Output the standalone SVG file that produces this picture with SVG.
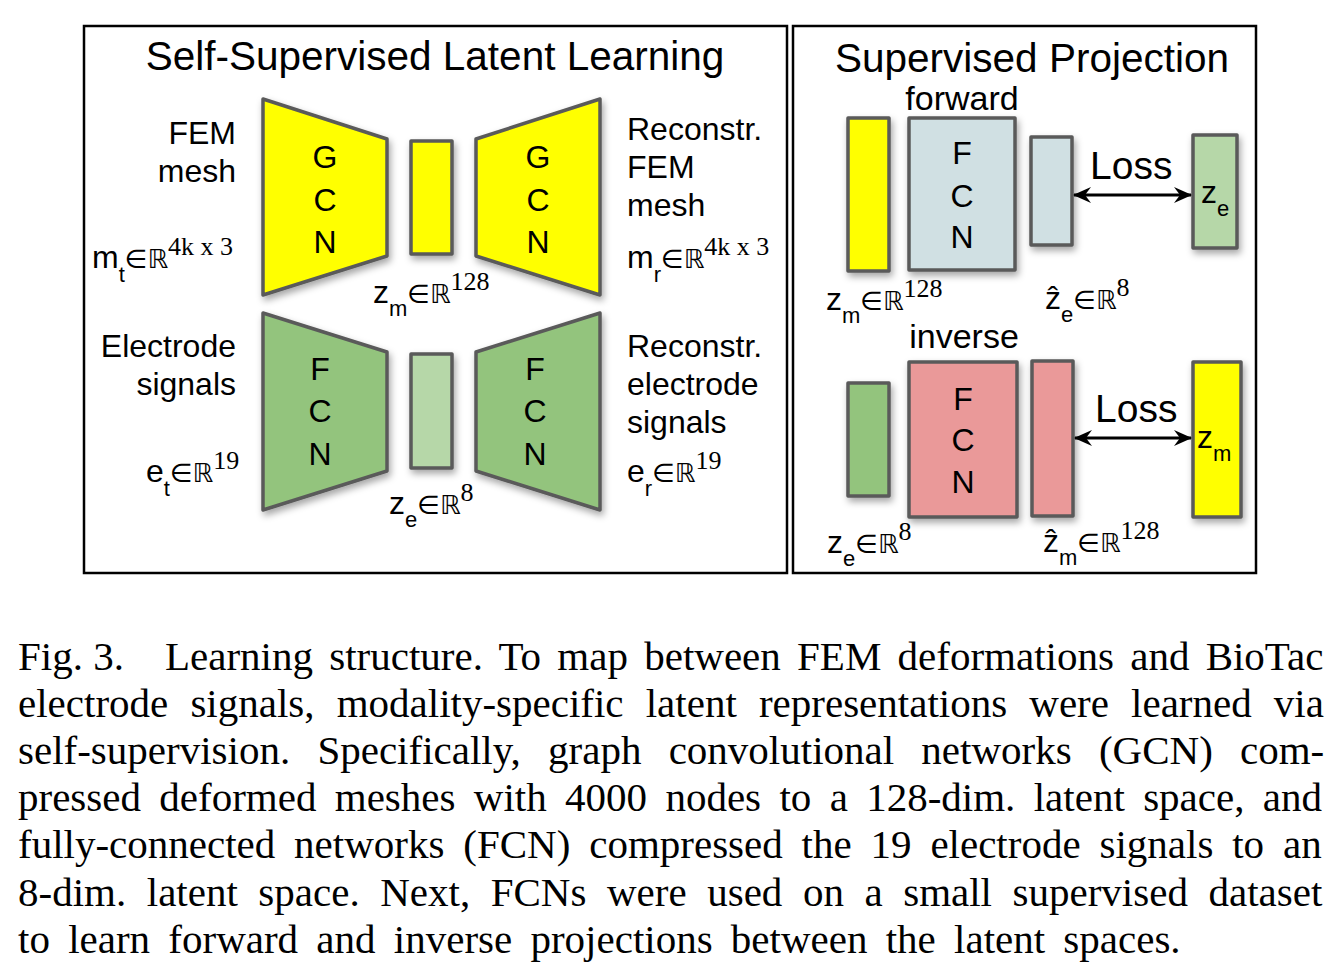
<svg xmlns="http://www.w3.org/2000/svg" width="1344" height="966" viewBox="0 0 1344 966">
<style>
text{font-family:"Liberation Sans",Arial,"DejaVu Sans",sans-serif;fill:#000}
.title{font-size:40.5px}
.lbl{font-size:32px}
.let{font-size:32px;text-anchor:middle}
.sub{font-size:22px}
.sym{font-family:"DejaVu Sans",sans-serif;font-size:26px}
.sup{font-family:"Liberation Serif","DejaVu Serif",serif;font-size:26px}
.loss{font-size:39px}
.cap{font-family:"Liberation Serif","Times New Roman",serif;font-size:41px}
.shape{stroke:#5a5a5a;stroke-width:3.5;stroke-linejoin:round;filter:url(#sh)}
.panel{fill:none;stroke:#000;stroke-width:2.5}
.yel{fill:#ffff00}
.grn{fill:#93c47d}
.lgrn{fill:#b6d7a8}
.blu{fill:#d0e0e3}
.pnk{fill:#ea9999}
.conn{stroke:#000;stroke-width:3;fill:none}
</style>
<defs>
<filter id="sh" x="-20%" y="-20%" width="150%" height="150%">
<feDropShadow dx="2" dy="4" stdDeviation="3.5" flood-color="#000" flood-opacity="0.35"/>
</filter>
<marker id="ah" viewBox="0 0 18 16" refX="17" refY="8" markerWidth="18" markerHeight="16" markerUnits="userSpaceOnUse" orient="auto-start-reverse">
<path d="M0,0 L18,8 L0,16 L6,8 z" fill="#000"/>
</marker>
</defs>
<rect width="1344" height="966" fill="#fff"/>

<g id="panel-left">
<rect class="panel" x="84" y="26" width="703" height="547"/>
<text class="title" x="435" y="70" text-anchor="middle">Self-Supervised Latent Learning</text>
</g>
<g id="panel-right">
<rect class="panel" x="793" y="26" width="463" height="547"/>
<text class="title" x="1032" y="72" text-anchor="middle">Supervised Projection</text>
</g>

<g id="gcn-encoder">
<polygon class="shape yel" points="263,99 387,139 387,256 263,295"/>
<text class="let" x="325" y="168">G</text>
<text class="let" x="325" y="211">C</text>
<text class="let" x="325" y="253">N</text>
</g>
<g id="zm-latent">
<rect class="shape yel" x="411" y="141" width="41" height="113"/>
<text class="lbl" x="373" y="303">z<tspan class="sub" dy="13">m</tspan><tspan class="sym" dy="-13">∈ℝ</tspan><tspan class="sup" dy="-13">128</tspan></text>
</g>
<g id="gcn-decoder">
<polygon class="shape yel" points="476,139 600,99 600,295 476,256"/>
<text class="let" x="538" y="168">G</text>
<text class="let" x="538" y="211">C</text>
<text class="let" x="538" y="253">N</text>
</g>
<g id="fem-input">
<text class="lbl" x="236" y="144" text-anchor="end">FEM</text>
<text class="lbl" x="236" y="182" text-anchor="end">mesh</text>
<text class="lbl" x="92" y="268">m<tspan class="sub" dy="14">t</tspan><tspan class="sym" dy="-14">∈ℝ</tspan><tspan class="sup" dy="-13">4k x 3</tspan></text>
</g>
<g id="fem-output">
<text class="lbl" x="627" y="140">Reconstr.</text>
<text class="lbl" x="627" y="178">FEM</text>
<text class="lbl" x="627" y="216">mesh</text>
<text class="lbl" x="627" y="268">m<tspan class="sub" dy="14">r</tspan><tspan class="sym" dy="-14">∈ℝ</tspan><tspan class="sup" dy="-13">4k x 3</tspan></text>
</g>

<g id="fcn-encoder">
<polygon class="shape grn" points="263,313 387,352 387,471 263,510"/>
<text class="let" x="320" y="380">F</text>
<text class="let" x="320" y="422">C</text>
<text class="let" x="320" y="465">N</text>
</g>
<g id="ze-latent">
<rect class="shape lgrn" x="411" y="354" width="41" height="114"/>
<text class="lbl" x="389" y="514">z<tspan class="sub" dy="13">e</tspan><tspan class="sym" dy="-13">∈ℝ</tspan><tspan class="sup" dy="-13">8</tspan></text>
</g>
<g id="fcn-decoder">
<polygon class="shape grn" points="476,352 600,313 600,510 476,471"/>
<text class="let" x="535" y="380">F</text>
<text class="let" x="535" y="422">C</text>
<text class="let" x="535" y="465">N</text>
</g>
<g id="electrode-input">
<text class="lbl" x="236" y="357" text-anchor="end">Electrode</text>
<text class="lbl" x="236" y="395" text-anchor="end">signals</text>
<text class="lbl" x="146" y="482">e<tspan class="sub" dy="14">t</tspan><tspan class="sym" dy="-14">∈ℝ</tspan><tspan class="sup" dy="-13">19</tspan></text>
</g>
<g id="electrode-output">
<text class="lbl" x="627" y="357">Reconstr.</text>
<text class="lbl" x="627" y="395">electrode</text>
<text class="lbl" x="627" y="433">signals</text>
<text class="lbl" x="627" y="482">e<tspan class="sub" dy="14">r</tspan><tspan class="sym" dy="-14">∈ℝ</tspan><tspan class="sup" dy="-13">19</tspan></text>
</g>

<g id="forward">
<text class="lbl" x="962" y="110" text-anchor="middle" style="font-size:34px">forward</text>
</g>
<g id="fwd-zm">
<rect class="shape yel" x="848" y="118" width="41" height="153"/>
<text class="lbl" x="826" y="310">z<tspan class="sub" dy="13">m</tspan><tspan class="sym" dy="-13">∈ℝ</tspan><tspan class="sup" dy="-13">128</tspan></text>
</g>
<g id="fwd-fcn">
<rect class="shape blu" x="909" y="118" width="106" height="152"/>
<text class="let" x="962" y="164">F</text>
<text class="let" x="962" y="207">C</text>
<text class="let" x="962" y="248">N</text>
</g>
<g id="fwd-zehat">
<rect class="shape blu" x="1031" y="137" width="41" height="108"/>
<text class="lbl" x="1045" y="309">ẑ<tspan class="sub" dy="13">e</tspan><tspan class="sym" dy="-13">∈ℝ</tspan><tspan class="sup" dy="-13">8</tspan></text>
</g>
<g id="fwd-ze">
<rect class="shape lgrn" x="1193" y="135" width="44" height="113"/>
<text class="lbl" x="1201" y="203">z<tspan class="sub" dy="13">e</tspan></text>
</g>

<g id="inverse">
<text class="lbl" x="964" y="348" text-anchor="middle" style="font-size:34px">inverse</text>
</g>
<g id="inv-ze">
<rect class="shape grn" x="848" y="383" width="41" height="113"/>
<text class="lbl" x="827" y="553">z<tspan class="sub" dy="13">e</tspan><tspan class="sym" dy="-13">∈ℝ</tspan><tspan class="sup" dy="-13">8</tspan></text>
</g>
<g id="inv-fcn">
<rect class="shape pnk" x="909" y="362" width="108" height="155"/>
<text class="let" x="963" y="410">F</text>
<text class="let" x="963" y="451">C</text>
<text class="let" x="963" y="493">N</text>
</g>
<g id="inv-zmhat">
<rect class="shape pnk" x="1032" y="361" width="41" height="155"/>
<text class="lbl" x="1043" y="552">ẑ<tspan class="sub" dy="13">m</tspan><tspan class="sym" dy="-13">∈ℝ</tspan><tspan class="sup" dy="-13">128</tspan></text>
</g>
<g id="inv-zm">
<rect class="shape yel" x="1193" y="362" width="48" height="155"/>
<text class="lbl" x="1197" y="448">z<tspan class="sub" dy="13">m</tspan></text>
</g>

<g id="connectors">
<line class="conn" x1="1074" y1="195" x2="1191" y2="195" marker-start="url(#ah)" marker-end="url(#ah)"/>
<text class="loss" x="1090" y="179">Loss</text>
<line class="conn" x1="1075" y1="438" x2="1191" y2="438" marker-start="url(#ah)" marker-end="url(#ah)"/>
<text class="loss" x="1095" y="422">Loss</text>
</g>

<g id="caption">
<text class="cap" x="18" y="670">Fig. 3.</text>
<text class="cap" x="165" y="670" style="word-spacing:6px">Learning structure. To map between FEM deformations and BioTac</text>
<text class="cap" x="18" y="717" style="word-spacing:11.9px">electrode signals, modality-specific latent representations were learned via</text>
<text class="cap" x="18" y="764" style="word-spacing:17px">self-supervision. Specifically, graph convolutional networks (GCN) com-</text>
<text class="cap" x="18" y="811" style="word-spacing:8.1px">pressed deformed meshes with 4000 nodes to a 128-dim. latent space, and</text>
<text class="cap" x="18" y="858" style="word-spacing:8.6px">fully-connected networks (FCN) compressed the 19 electrode signals to an</text>
<text class="cap" x="18" y="906" style="word-spacing:10.3px">8-dim. latent space. Next, FCNs were used on a small supervised dataset</text>
<text class="cap" x="18" y="953" style="word-spacing:8px">to learn forward and inverse projections between the latent spaces.</text>
</g>
</svg>
